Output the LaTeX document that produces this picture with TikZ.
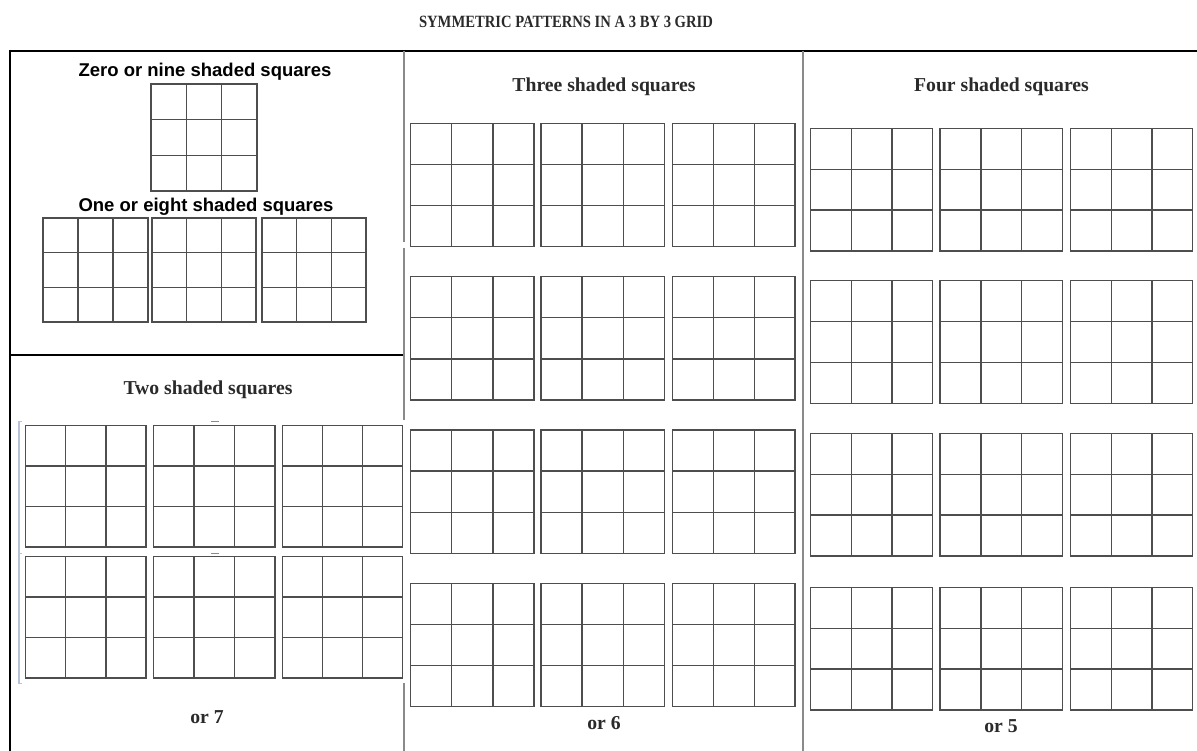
\documentclass[tikz,border=0pt]{standalone}
\usepackage{fontspec}
\setmainfont{Liberation Serif}
\newfontfamily\arialb{Liberation Sans}[BoldFont=* Bold]
\definecolor{gridgray}{HTML}{4E4E4E}
\definecolor{framegray}{HTML}{8A8A8A}
\definecolor{headgray}{HTML}{2A2A2A}
\definecolor{bracketblue}{HTML}{B7C3D6}
\tikzset{
  gridline/.style={draw=gridgray, line width=1.35pt},
  frameline/.style={draw=black, line width=2pt},
  divline/.style={draw=framegray, line width=1.4pt},
  camhead/.style={font=\fontsize{19.7}{22}\selectfont\bfseries, text=headgray, inner sep=0pt},
  arhead/.style={font=\arialb\fontsize{18.5}{21}\selectfont\bfseries, text=black, inner sep=0pt},
}
% grid: top-left x, y, width, height
\newcommand\tgrid[4]{%
  \draw[gridline] (#1,#2) rectangle ++(#3,#4);
  \draw[gridline] ({#1+#3/3},#2) -- ++(0,#4);
  \draw[gridline] ({#1+2*#3/3},#2) -- ++(0,#4);
  \draw[gridline] (#1,{#2+#4/3}) -- ++(#3,0);
  \draw[gridline] (#1,{#2+2*#4/3}) -- ++(#3,0);
}
\begin{document}
\begin{tikzpicture}[x=1pt,y=-1pt]
\useasboundingbox (0,0) rectangle (1197,751);
\fill[white] (0,0) rectangle (1197,751);

% title
\node[inner sep=0pt, text=headgray] (title) at (566,22)
  {\scalebox{0.85}[1]{\fontsize{17.2}{19}\selectfont\bfseries SYMMETRIC PATTERNS IN A 3 BY 3 GRID}};

% frame
\draw[frameline] (10,51) -- (1197,51);
\draw[frameline] (10,50) -- (10,751);
\draw[draw=black, line width=1.6pt] (10,355) -- (404,355);
\draw[divline] (404,51) -- (404,242);
\draw[divline] (404,248) -- (404,420);
\draw[divline] (404,683) -- (404,751);
\draw[divline] (803,51) -- (803,751);

% bracket in two-shaded panel
\draw[draw=bracketblue, line width=1.2pt] (22,421.7) -- (19,421.7) -- (19,683.3) -- (22,683.3);
\draw[draw=bracketblue, line width=0.8pt] (19,553) -- (22,553);
\draw[draw=framegray, line width=1pt] (211,421) -- (219,421);
\draw[draw=framegray, line width=1pt] (211,553) -- (219,553);

% headings
\node[arhead] (h09) at (205,72) {Zero or nine shaded squares};
\node[arhead] (h18) at (206,207) {One or eight shaded squares};
\node[camhead] (h2) at (208,390) {Two shaded squares};
\node[camhead] (h3) at (604,87) {Three shaded squares};
\node[camhead] (h4) at (1001.5,87) {Four shaded squares};
\node[camhead] (o7) at (207,717) {or 7};
\node[camhead] (o6) at (604,723) {or 6};
\node[camhead] (o5) at (1001,726) {or 5};

% zero or nine
\tgrid{151}{84}{106}{107}
% one or eight
\tgrid{43}{218}{105}{104}
\tgrid{152}{218}{104}{104}
\tgrid{262}{218}{104}{104}
% two
\foreach \yy in {425.7,556.7}{
  \tgrid{25.7}{\yy}{120.3}{121.3}
  \tgrid{153.3}{\yy}{121.7}{121.3}
  \tgrid{282.3}{\yy}{120.4}{121.3}
}
% three
\foreach \yy in {123.3,276.7,430,583.3}{
  \tgrid{410.7}{\yy}{123.3}{123.3}
  \tgrid{541}{\yy}{123.3}{123.3}
  \tgrid{672.7}{\yy}{122.3}{123.3}
}
% four
\foreach \yy in {128.3,280.7,433.3,587.3}{
  \tgrid{810.7}{\yy}{122}{122.7}
  \tgrid{940}{\yy}{122.7}{122.7}
  \tgrid{1070.7}{\yy}{122}{122.7}
}
\end{tikzpicture}
\end{document}
